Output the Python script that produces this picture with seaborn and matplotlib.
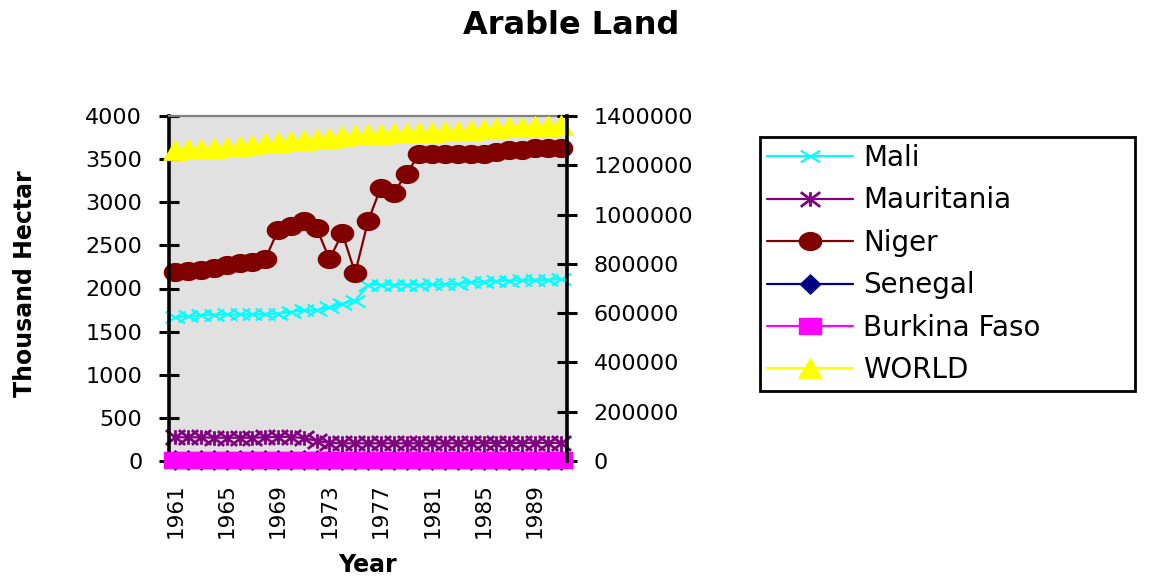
import numpy as np
import matplotlib
matplotlib.use("Agg")
import matplotlib.pyplot as plt
from matplotlib.path import Path
from matplotlib.ticker import FixedLocator
import seaborn as sns

# Arable land, thousand hectares, 1961-1991
years = list(range(1961, 1992))

mali = [1665, 1680, 1690, 1695, 1700, 1700, 1700, 1705, 1710, 1730,
        1745, 1750, 1780, 1825, 1860, 2040, 2045, 2045, 2045, 2045,
        2050, 2050, 2055, 2070, 2080, 2085, 2090, 2095, 2100, 2100, 2110]

mauritania = [275, 275, 275, 270, 270, 270, 270, 275, 280, 280,
              265, 235, 210, 205, 205, 205, 205, 205, 205, 205,
              205, 205, 205, 205, 210, 210, 210, 210, 210, 210, 210]

niger = [2190, 2200, 2220, 2240, 2270, 2290, 2310, 2340, 2680, 2720,
         2780, 2700, 2340, 2640, 2180, 2780, 3170, 3110, 3330, 3560,
         3560, 3560, 3560, 3560, 3560, 3580, 3610, 3610, 3630, 3630, 3630]

# secondary axis series
senegal = [2230, 2240, 2250, 2250, 2260, 2270, 2270, 2280, 2290, 2300,
           2300, 2310, 2320, 2330, 2340, 2340, 2350, 2350, 2350, 2350,
           2350, 2350, 2350, 2350, 2350, 2350, 2350, 2350, 2350, 2350, 2350]

burkina_faso = [2400, 2420, 2450, 2480, 2500, 2520, 2540, 2560, 2580, 2600,
                2620, 2640, 2660, 2690, 2720, 2750, 2780, 2810, 2840, 2870,
                2900, 2930, 2960, 3000, 3050, 3100, 3150, 3200, 3250, 3300, 3350]

world = [1262000, 1265000, 1268000, 1271000, 1274000, 1277000, 1282000,
         1290000, 1296000, 1300000, 1303000, 1306000, 1310000, 1318000,
         1322000, 1325000, 1328000, 1330000, 1332000, 1334000, 1336000,
         1338000, 1340000, 1344000, 1348000, 1352000, 1355000, 1357000,
         1359000, 1360000, 1362000]

left_ticks = [0, 500, 1000, 1500, 2000, 2500, 3000, 3500, 4000]
right_ticks = [0, 200000, 400000, 600000, 800000, 1000000, 1200000, 1400000]
year_ticks = [1961, 1965, 1969, 1973, 1977, 1981, 1985, 1989]


# Slightly wide marker shapes
def ellipse(aspect):
    t = np.linspace(0, 2 * np.pi, 40)
    return Path(np.column_stack([np.cos(t), aspect * np.sin(t)]), closed=True)


def rect(aspect):
    return Path([(-1, -aspect), (1, -aspect), (1, aspect), (-1, aspect), (-1, -aspect)], closed=True)


def triangle(aspect):
    return Path([(-1, -aspect), (1, -aspect), (0, aspect), (-1, -aspect)], closed=True)


def diamond(aspect):
    return Path([(-1, 0), (0, aspect), (1, 0), (0, -aspect), (-1, 0)], closed=True)


def cross(aspect):
    return Path([(-1, -aspect), (1, aspect), (-1, aspect), (1, -aspect)],
                [Path.MOVETO, Path.LINETO, Path.MOVETO, Path.LINETO])


def asterisk(aspect):
    return Path([(-1, -aspect), (1, aspect), (-1, aspect), (1, -aspect), (0, -aspect), (0, aspect)],
                [Path.MOVETO, Path.LINETO, Path.MOVETO, Path.LINETO, Path.MOVETO, Path.LINETO])


sns.set_style("white")
plt.rcParams["font.family"] = ["DejaVu Sans"]
plt.rcParams["text.color"] = "black"
plt.rcParams["axes.labelcolor"] = "black"
plt.rcParams["xtick.color"] = "black"
plt.rcParams["ytick.color"] = "black"
plt.rcParams["xtick.labelcolor"] = "black"
plt.rcParams["ytick.labelcolor"] = "black"

fig = plt.figure(figsize=(11.57, 5.77), dpi=100)
ax = fig.add_axes([169 / 1157, 116 / 577, 398 / 1157, 345 / 577])
ax.set_facecolor("#E1E1E1")
ax2 = ax.twinx()

primary = [
    ("Mali", mali, "#00FFFF", cross(0.6), 14, 1.6),
    ("Mauritania", mauritania, "#800080", asterisk(0.75), 14, 2.0),
    ("Niger", niger, "#800000", ellipse(0.8), 16, 1.0),
]
secondary = [
    ("Senegal", senegal, "#000080", diamond(0.95), 14.5, 1.0),
    ("Burkina Faso", burkina_faso, "#FF00FF", rect(0.74), 16.5, 1.0),
    ("WORLD", world, "#FFFF00", triangle(0.85), 16.5, 1.0),
]

for target, series in ((ax, primary), (ax2, secondary)):
    for name, values, color, mk, ms, mew in series:
        sns.lineplot(x=years, y=values, ax=target, color=color, linewidth=1.6,
                     marker=mk, markersize=ms, markeredgecolor=color,
                     markerfacecolor=color, markeredgewidth=mew,
                     label=name, legend=False, clip_on=False)

ax.set_xlim(1960.5, 1991.5)
ax.set_ylim(0, 4000)
ax2.set_ylim(0, 1400000)
ax.set_xlabel("")
ax.set_ylabel("")
ax2.set_ylabel("")

ax.set_xticks(year_ticks)
ax.set_xticklabels([str(y) for y in year_ticks], rotation=90, fontsize=15.5)
ax.xaxis.set_minor_locator(FixedLocator(np.arange(1960.5, 1992.0, 1.0)))
ax.tick_params(axis="x", which="major", length=0, pad=16)
ax.tick_params(axis="x", which="minor", length=7, width=2, direction="out", color="black")

ax.set_yticks(left_ticks)
ax.set_yticklabels([str(v) for v in left_ticks], fontsize=16)
ax.tick_params(axis="y", direction="inout", length=14.5, width=2.2, pad=12, color="black")

ax2.set_yticks(right_ticks)
ax2.set_yticklabels([str(v) for v in right_ticks], fontsize=16)
ax2.tick_params(axis="y", direction="inout", length=14.5, width=2.2, pad=12, color="black")

ax.spines["right"].set_visible(False)
ax.spines["left"].set_color("black")
ax.spines["left"].set_linewidth(2.6)
ax.spines["bottom"].set_color("black")
ax.spines["bottom"].set_linewidth(1.5)
ax.spines["top"].set_color("#808080")
ax.spines["top"].set_linewidth(1.6)
for side in ("left", "top", "bottom"):
    ax2.spines[side].set_visible(False)
ax2.spines["right"].set_color("black")
ax2.spines["right"].set_linewidth(2.6)

fig.text(0.4935, 0.955, "Arable Land", ha="center", va="center",
         fontsize=23, fontweight="bold")
fig.text(0.0216, 0.509, "Thousand Hectar", rotation=90, ha="center", va="center",
         fontsize=17, fontweight="bold")
fig.text(0.318, 0.0208, "Year", ha="center", va="center",
         fontsize=17, fontweight="bold")

h1, l1 = ax.get_legend_handles_labels()
h2, l2 = ax2.get_legend_handles_labels()
leg = fig.legend(h1 + h2, l1 + l2, loc="upper left",
                 bbox_to_anchor=(760 / 1157, 0.3, 375 / 1157, 1 - 137 / 577 - 0.3),
                 mode="expand", borderaxespad=0, fontsize=20,
                 handlelength=3.1, handletextpad=0.36, labelspacing=0.52,
                 borderpad=0.25, fancybox=False, framealpha=1,
                 edgecolor="black", facecolor="white")
leg.get_frame().set_linewidth(2)

fig.savefig("out.png", dpi=100)
